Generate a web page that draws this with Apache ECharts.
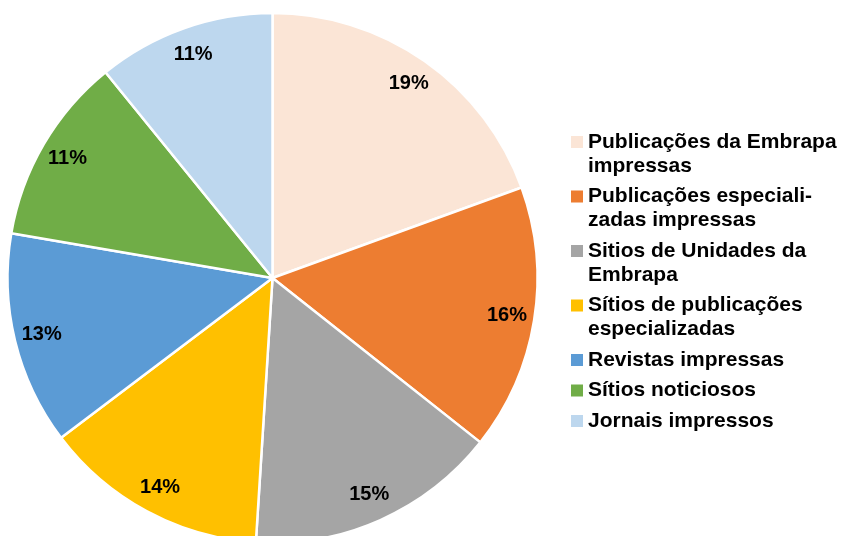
<!DOCTYPE html>
<html>
<head>
<meta charset="utf-8">
<script src="https://cdn.jsdelivr.net/npm/echarts@6/dist/echarts.min.js"></script>
<style>
html,body{margin:0;padding:0;background:#fff;}
#chart{width:841px;height:536px;}
</style>
</head>
<body>
<div id="chart"></div>
<script>
// categorias, valores (%) e textos da legenda
var names = [
	'Publicações da Embrapa impressas',
	'Publicações especializadas impressas',
	'Sitios de Unidades da Embrapa',
	'Sítios de publicações especializadas',
	'Revistas impressas',
	'Sítios noticiosos',
	'Jornais impressos'
];
var legendLabels = [
	'Publicações da Embrapa\nimpressas',
	'Publicações especiali-\nzadas impressas',
	'Sitios de Unidades da\nEmbrapa',
	'Sítios de publicações\nespecializadas',
	'Revistas impressas',
	'Sítios noticiosos',
	'Jornais impressos'
];
var values = [19.45, 16.2, 15.35, 13.7, 13.0, 11.45, 10.85];
var colors = ['#FBE5D6', '#ED7D31', '#A5A5A5', '#FFC000', '#5B9BD5', '#70AD47', '#BDD7EE'];

// icone alinhado com a primeira linha do texto
var ICON_ONE = 'path://M0,0h12v12h-12z';
var ICON_TWO = 'path://M0,0h12v12h-12zM0,35.9h0.1';

var pieData = [];
var legendData = [];
for (var i = 0; i < names.length; i++) {
	pieData.push({name: names[i], value: values[i]});
	legendData.push({
		name: names[i],
		icon: legendLabels[i].indexOf('\n') > -1 ? ICON_TWO : ICON_ONE
	});
}

function legendText(name) {
	return legendLabels[names.indexOf(name)];
}

var myChart = echarts.init(document.getElementById('chart'));
var option = {
	animation: false,
	color: colors,
	legend: {
		orient: 'vertical',
		left: 571,
		top: 130,
		padding: 0,
		itemWidth: 12,
		itemHeight: 36,
		itemGap: 6.5,
		symbolKeepAspect: true,
		selectedMode: false,
		data: legendData,
		formatter: legendText,
		itemStyle: {borderWidth: 0},
		textStyle: {
			fontFamily: 'Liberation Sans',
			fontWeight: 'bold',
			fontSize: 21,
			lineHeight: 24,
			color: '#000'
		}
	},
	series: [
		{
			type: 'pie',
			center: [272.5, 278],
			radius: [0, 265],
			startAngle: 90,
			clockwise: true,
			silent: true,
			label: {show: false},
			labelLine: {show: false},
			itemStyle: {borderColor: '#fff', borderWidth: 2.5},
			data: pieData
		},
		{
			// anel invisivel so para posicionar os rotulos
			type: 'pie',
			center: [272.5, 278],
			radius: [204, 265],
			startAngle: 90,
			clockwise: true,
			silent: true,
			itemStyle: {color: 'rgba(0,0,0,0)', borderWidth: 0},
			labelLine: {show: false},
			label: {
				show: true,
				position: 'inside',
				formatter: function (p) {
					return Math.round(p.percent) + '%';
				},
				fontFamily: 'Liberation Sans',
				fontWeight: 'bold',
				fontSize: 20,
				color: '#000'
			},
			data: pieData
		}
	]
};
myChart.setOption(option);
</script>
</body>
</html>
